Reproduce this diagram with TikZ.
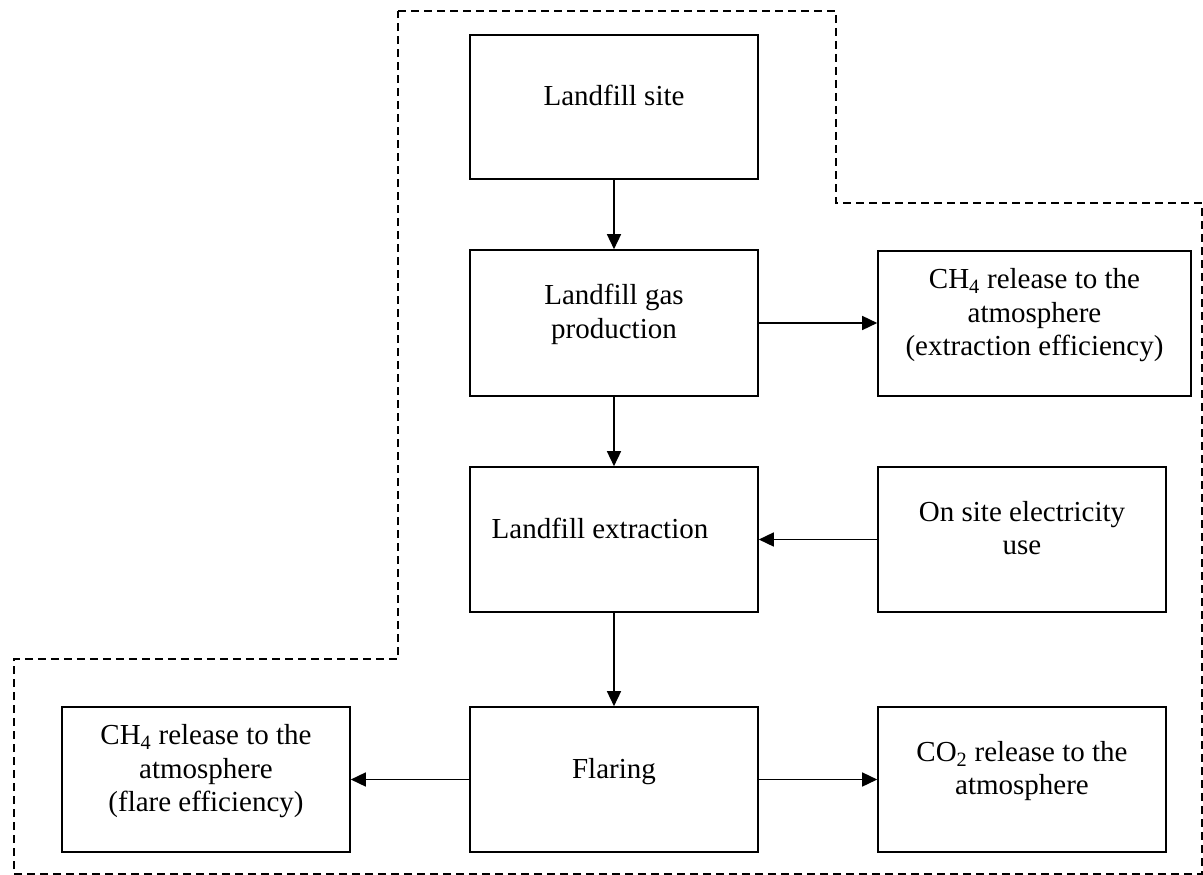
\documentclass[tikz,border=0pt]{standalone}
\usepackage{fontspec}
\setmainfont{Liberation Serif}
\usetikzlibrary{arrows.meta}
\newcommand\bt[2][0pt]{\raisebox{8pt}[\height][\depth]{\hspace*{#1}\begin{tabular}{@{}c@{}}#2\end{tabular}}}
\tikzset{
  boxnode/.style={draw, line width=1.6pt, minimum width=288pt, minimum height=145pt, inner sep=0pt,
    font=\fontsize{29}{33.5}\selectfont},
  flow/.style={line width=1.5pt, -{Triangle[length=15pt,width=14pt]}},
  boundary/.style={line width=1.6pt, dash pattern=on 8pt off 5pt},
}
\begin{document}
\begin{tikzpicture}[x=1pt,y=-1pt]
\useasboundingbox (0,0) rectangle (1203,875);
\draw[boundary] (398,11) -- (836,11) -- (836,203) -- (1202,203) -- (1202,874) -- (14,874) -- (14,659) -- (398,659) -- cycle;

\node[boxnode, minimum height=144pt] (site) at (614,107) {\bt{Landfill site}};
\node[boxnode, minimum height=146pt] (gas) at (614,323) {\bt{Landfill gas\\production}};
\node[boxnode, minimum width=313pt] (ch4a) at (1034.5,323.5) {\bt{CH\textsubscript{4} release to the\\atmosphere\\(extraction efficiency)}};
\node[boxnode] (extr) at (614,539.5) {\bt[-28pt]{Landfill extraction}};
\node[boxnode] (elec) at (1022,539.5) {\bt{On site electricity\\use}};
\node[boxnode] (flare) at (614,779.5) {\bt{Flaring}};
\node[boxnode] (ch4b) at (206,779.5) {\bt{CH\textsubscript{4} release to the\\atmosphere\\(flare efficiency)}};
\node[boxnode] (co2) at (1022,779.5) {\bt{CO\textsubscript{2} release to the\\atmosphere}};

\draw[flow] (site) -- (gas);
\draw[flow] (gas) -- (ch4a.west |- gas.east);
\draw[flow] (gas) -- (extr);
\draw[flow] (elec) -- (extr);
\draw[flow] (extr) -- (flare);
\draw[flow] (flare) -- (ch4b);
\draw[flow] (flare) -- (co2);
\end{tikzpicture}
\end{document}
